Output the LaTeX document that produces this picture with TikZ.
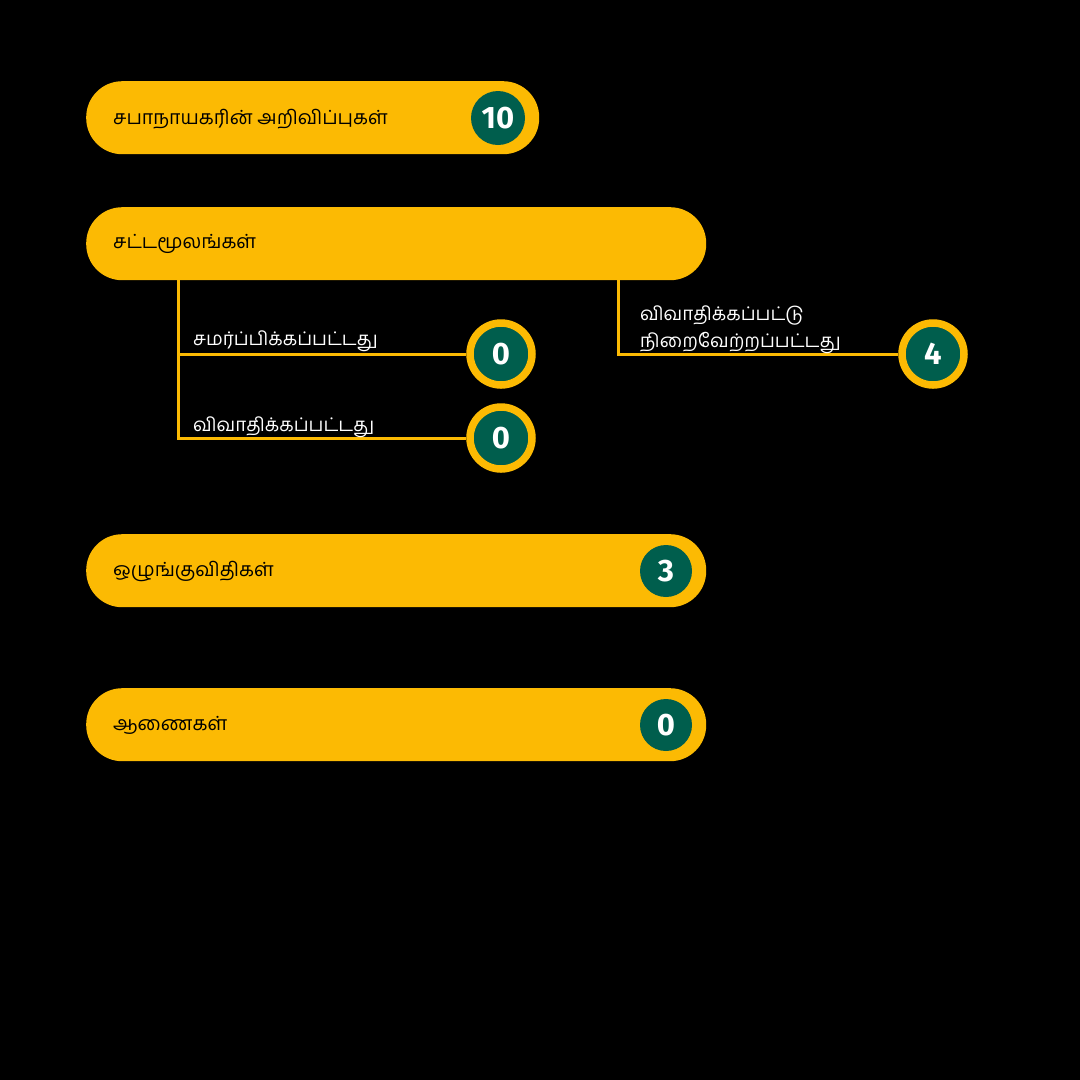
\documentclass[tikz,border=0pt]{standalone}
\usepackage{fontspec}
\newfontfamily\tam[Script=Tamil]{Hind Madurai}
\newfontfamily\numf{Fira Sans}
\definecolor{yel}{RGB}{252,186,3}
\definecolor{grn}{RGB}{0,94,77}
\begin{document}
\begin{tikzpicture}[x=1pt,y=-1pt,
  pill/.style={fill=yel, rounded corners=36pt, minimum height=73pt, inner sep=0pt, anchor=north west},
  pilltext/.style={font=\tam\fontsize{19.5}{24}\selectfont, text=black, anchor=west, inner sep=0pt},
  badge/.style={circle, fill=grn, text=white, minimum size=54pt, inner sep=0pt, font=\numf\bfseries\fontsize{31}{31}\selectfont},
  ringbadge/.style={badge, draw=yel, line width=7.5pt, minimum size=62pt},
  branch/.style={draw=yel, line width=3pt},
  lbl/.style={font=\tam\fontsize{18.8}{24}\selectfont, text=white, anchor=base west, inner sep=0pt}]
\fill[black] (0,0) rectangle (1080,1080);
\useasboundingbox (0,0) rectangle (1080,1080);
% pill 1
\node[pill, minimum width=453pt] (p1) at (86,81) {};
\node[pilltext] (t1) at (113,119) {சபாநாயகரின் அறிவிப்புகள்};
\node[badge] (b1) at (498,118) {10};
% pill 2
\node[pill, minimum width=620pt] (p2) at (86,207) {};
\node[pilltext] (t2) at (113,244) {சட்டமூலங்கள்};
\coordinate (v1) at (178,279);
\coordinate (j1) at (178,354);
\coordinate (v2) at (618,279);
\node[ringbadge] (c1) at (501,354) {0};
\node[ringbadge] (c2) at (501,438) {0};
\node[ringbadge] (c3) at (933,354) {4};
\draw[branch] (v1) |- (c2.west);
\draw[branch] (j1) -- (c1.west);
\draw[branch] (v2) |- (c3.west);
\node[lbl] (l1) at (193,345) {சமர்ப்பிக்கப்பட்டது};
\node[lbl] (l2) at (193,431) {விவாதிக்கப்பட்டது};
\node[lbl] (l3) at (640,320) {விவாதிக்கப்பட்டு};
\node[lbl] (l4) at (640,347) {நிறைவேற்றப்பட்டது};
% pill 3
\node[pill, minimum width=620pt] (p3) at (86,534) {};
\node[pilltext] (t3) at (113,571) {ஒழுங்குவிதிகள்};
\node[badge, minimum size=52pt] (b3) at (666,571) {3};
% pill 4
\node[pill, minimum width=620pt] (p4) at (86,688) {};
\node[pilltext] (t4) at (113,725) {ஆணைகள்};
\node[badge, minimum size=52pt] (b4) at (666,725) {0};
\end{tikzpicture}
\end{document}
